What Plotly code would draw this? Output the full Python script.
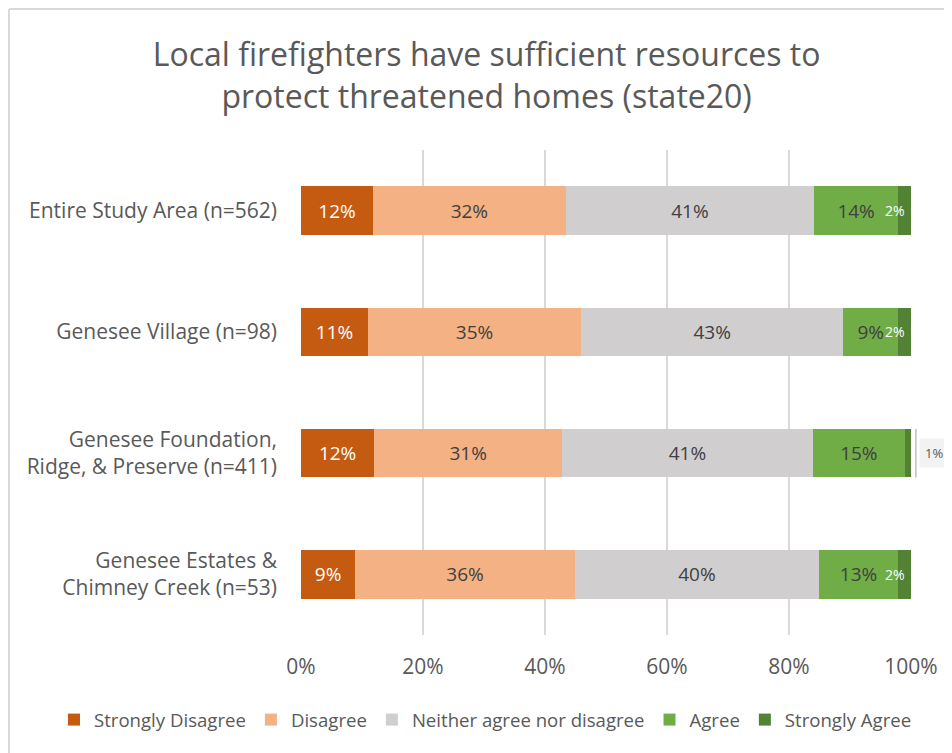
import plotly.graph_objects as go

groups = ["Entire Study Area (n=562)", "Genesee Village (n=98)",
          "Genesee Foundation,<br>Ridge, & Preserve (n=411)",
          "Genesee Estates &<br>Chimney Creek (n=53)"]
series_names = ["Strongly Disagree", "Disagree", "Neither agree nor disagree", "Agree", "Strongly Agree"]
strongly_disagree = [11.8, 11.0, 12.0, 8.9]
disagree = [31.6, 34.9, 30.8, 36.0]
neither = [40.7, 43.0, 41.1, 40.0]
agree = [13.8, 9.0, 15.1, 13.0]
strongly_agree = [2.1, 2.1, 1.0, 2.1]
label_sd = ["12%", "11%", "12%", "9%"]
label_d = ["32%", "35%", "31%", "36%"]
label_n = ["41%", "43%", "41%", "40%"]
label_a = ["14%", "9%", "15%", "13%"]
label_sa = ["2%", "2%", "", "2%"]
callout_label = "1%"

colors = ["#C55A11", "#F4B183", "#D0CECE", "#70AD47", "#548235"]
font_fam = "Open Sans, Liberation Sans, sans-serif"

fig = go.Figure()
data = [strongly_disagree, disagree, neither, agree, strongly_agree]
labels = [label_sd, label_d, label_n, label_a, label_sa]
txtcolors = ["white", "#404040", "#404040", "#404040", "white"]
for i, (name, vals, lab, col, tc) in enumerate(zip(series_names, data, labels, colors, txtcolors)):
    last = i == len(series_names) - 1
    fig.add_trace(go.Bar(
        y=groups, x=vals, name=name, orientation="h", marker=dict(color=col, line=dict(width=0)),
        text=None if last else lab, textposition="none" if last else "inside",
        insidetextanchor="middle", textangle=0,
        textfont=dict(color=tc, size=19, family=font_fam), constraintext="none",
        hoverinfo="x+name"))

# small "Strongly Agree" labels (overflowing their thin segments)
for g, sd, d, n, a, sa, lab in zip(groups, strongly_disagree, disagree, neither, agree,
                                   strongly_agree, label_sa):
    if lab:
        fig.add_annotation(x=sd + d + n + a + sa, y=g, xref="x", yref="y", text=lab,
                           showarrow=False, xanchor="right", xshift=-4,
                           font=dict(size=14, color="white", family=font_fam))

fig.add_annotation(x=1.0, y=groups[2], xref="paper", yref="y", text=callout_label,
                   showarrow=False, xanchor="left", xshift=8, bgcolor="#F2F2F2",
                   font=dict(size=13, color="#595959", family=font_fam), borderpad=5)
fig.add_shape(type="line", xref="paper", yref="y", x0=1.008, x1=1.008, y0=2.2, y1=1.8,
              line=dict(color="#BFBFBF", width=1.5))

W, H = 944, 745
L, T, PW, PH = 293, 142, 610, 485
fig.update_layout(
    width=W, height=H, barmode="stack", bargap=0.6,
    paper_bgcolor="white", plot_bgcolor="white",
    margin=dict(l=L, r=W - L - PW, t=T, b=H - T - PH, autoexpand=False),
    title=dict(text="Local firefighters have sufficient resources to<br>protect threatened homes (state20)",
               x=0.507, xanchor="center", xref="container", yref="container",
               y=1 - 58 / H, yanchor="top",
               font=dict(size=32, color="#595959", family=font_fam)),
    xaxis=dict(range=[0, 100], tickvals=[0, 20, 40, 60, 80, 100],
               ticktext=["0%", "20%", "40%", "60%", "80%", "100%"],
               showgrid=True, gridcolor="#D9D9D9", gridwidth=1.5, zeroline=False,
               tickfont=dict(size=21, color="#595959", family=font_fam), ticks="",
               ticklabelstandoff=17, automargin=False),
    yaxis=dict(autorange="reversed", tickfont=dict(size=21, color="#595959", family=font_fam),
               ticks="", ticklabelstandoff=23, showgrid=False, automargin=False),
    legend=dict(orientation="h", xref="paper", yref="paper", x=-(L - 46) / PW, xanchor="left",
                y=-(712 - (T + PH)) / PH, yanchor="middle",
                font=dict(size=18.6, color="#595959", family=font_fam), traceorder="normal",
                itemwidth=30),
)
# chart-area border (left and top edges)
bx = -(L - 1) / PW
by = 1 + (T - 1) / PH
fig.add_shape(type="line", xref="paper", yref="paper", x0=bx, x1=bx, y0=by, y1=-(H - T - PH) / PH,
              line=dict(color="#D9D9D9", width=2))
fig.add_shape(type="line", xref="paper", yref="paper", x0=bx, x1=(W - L) / PW, y0=by, y1=by,
              line=dict(color="#D9D9D9", width=2))
fig.write_html("out.html")
